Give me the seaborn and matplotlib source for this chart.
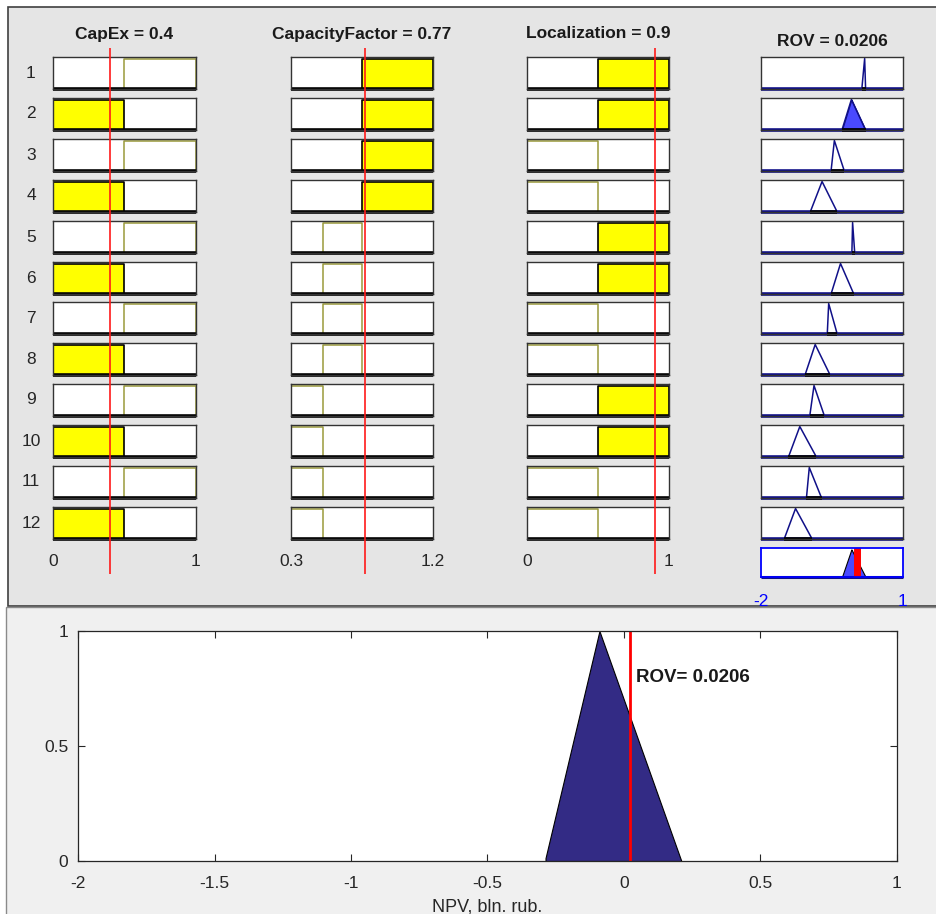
"""Fuzzy rule viewer: CapEx / CapacityFactor / Localization -> ROV, plus the NPV output plot."""
import matplotlib
matplotlib.use("Agg")
import matplotlib.pyplot as plt
import seaborn as sns
import numpy as np
from matplotlib.patches import Rectangle
from matplotlib.transforms import blended_transform_factory

capex_value = 0.4
cf_value = 0.77
loc_value = 0.9
rov_value = 0.0206

capex_sets = {"low": (0.0, 0.5), "high": (0.5, 1.0)}
cf_sets = {"low": (0.3, 0.5), "mid": (0.5, 0.75), "high": (0.75, 1.2)}
loc_sets = {"low": (0.0, 0.5), "high": (0.5, 1.0)}

rule_capex = ["high", "low", "high", "low", "high", "low",
              "high", "low", "high", "low", "high", "low"]
rule_cf = ["high", "high", "high", "high", "mid", "mid",
           "mid", "mid", "low", "low", "low", "low"]
rule_loc = ["high", "high", "low", "low", "high", "high",
            "low", "low", "high", "high", "low", "low"]

# output triangles (left, peak, right) per rule
rov_left = [0.13, -0.29, -0.52, -0.96, -0.08, -0.52, -0.60, -1.07, -0.97, -1.42, -1.04, -1.51]
rov_peak = [0.19, -0.09, -0.45, -0.71, -0.065, -0.32, -0.57, -0.855, -0.88, -1.18, -0.98, -1.27]
rov_right = [0.21, 0.21, -0.24, -0.39, -0.02, -0.04, -0.39, -0.54, -0.66, -0.83, -0.72, -0.92]

npv_ticks = [-2, -1.5, -1, -0.5, 0, 0.5, 1]
npv_tick_labels = ["-2", "-1.5", "-1", "-0.5", "0", "0.5", "1"]
mu_ticks = [0, 0.5, 1]
mu_tick_labels = ["0", "0.5", "1"]

# ---- styling ----
sns.set_style("white")
plt.rcParams["font.family"] = ["Liberation Sans", "DejaVu Sans"]

W, H = 937, 914
YELLOW = "#ffff00"
OLIVE = "#9a9a3a"
NAVY = "#101088"
LIGHT_BLUE = "#4a4aff"
DARK_FILL = "#332b85"
BOX_EDGE = "#333333"
TXT = "#262626"

fig = plt.figure(figsize=(W / 100, H / 100), dpi=100, facecolor="white")

# panel backgrounds (behind every axes)
fig.patches.append(Rectangle((8 / W, 1 - 606 / H), (W - 8) / W, (606 - 7) / H,
                             transform=fig.transFigure, facecolor="#e5e5e5",
                             edgecolor="#404040", linewidth=1.2, zorder=-2))
fig.patches.append(Rectangle((6 / W, -0.01), (W - 6) / W, 1 - 607 / H + 0.01,
                             transform=fig.transFigure, facecolor="#f0f0f0",
                             edgecolor="#8a8a8a", linewidth=1.0, zorder=-2))


def px_axes(x0, y0, x1, y1):
    return fig.add_axes([x0 / W, 1 - y1 / H, (x1 - x0) / W, (y1 - y0) / H])


def box_style(ax, color=BOX_EDGE, lw=1.0):
    ax.set_xticks([])
    ax.set_yticks([])
    for s in ax.spines.values():
        s.set_color(color)
        s.set_linewidth(lw)
        s.set_visible(True)
    ax.set_facecolor("white")


row_top = [57, 98, 139, 180, 221, 262, 302, 343, 384, 425, 466, 507]
row_h = 32
n_rules = len(rule_capex)

columns = [
    ("CapEx", capex_value, capex_sets, rule_capex, 0.0, 1.0, 53, 196, "0", "1"),
    ("CapacityFactor", cf_value, cf_sets, rule_cf, 0.3, 1.2, 291, 433, "0.3", "1.2"),
    ("Localization", loc_value, loc_sets, rule_loc, 0.0, 1.0, 527, 669, "0", "1"),
]

firing = np.ones(n_rules)

for name, val, sets, rules, lo, hi, x0, x1, lo_lab, hi_lab in columns:
    for r in range(n_rules):
        a, b = sets[rules[r]]
        mu = 1.0 if a <= val <= b else 0.0
        firing[r] = min(firing[r], mu)
        ax = px_axes(x0, row_top[r], x1, row_top[r] + row_h)
        ax.set_xlim(lo, hi)
        ax.set_ylim(0, 1.05)
        box_style(ax)
        if mu > 0:
            ax.fill_between([a, b], 0, mu, facecolor=YELLOW, edgecolor="black", linewidth=1.2)
        else:
            sns.lineplot(x=[a, a, b, b], y=[0, 1, 1, 0], ax=ax, color=OLIVE,
                         linewidth=1.1, sort=False, estimator=None)
        ax.plot([lo, hi], [0, 0], color="black", linewidth=2.6, clip_on=False,
                solid_capstyle="butt")
        ax.set_xlabel("")
        ax.set_ylabel("")

    # red marker for the crisp input, spanning the whole column
    ov = px_axes(x0, 48, x1, 574)
    ov.set_xlim(lo, hi)
    ov.set_ylim(0, 1)
    ov.axis("off")
    ov.patch.set_visible(False)
    ov.axvline(val, color="#ff1a1a", linewidth=1.2)
    fig.text((x0 + x1) / 2 / W, 1 - 34 / H, f"{name} = {val:g}", ha="center", va="center",
             fontsize=12.5, fontweight="bold", color="#1a1a1a")
    tr = blended_transform_factory(ov.transData, fig.transFigure)
    ov.text(lo, 1 - 561 / H, lo_lab, transform=tr, ha="center", va="center",
            fontsize=12.5, color=TXT)
    ov.text(hi, 1 - 561 / H, hi_lab, transform=tr, ha="center", va="center",
            fontsize=12.5, color=TXT)

# rule numbers
for r in range(n_rules):
    fig.text(31 / W, 1 - (row_top[r] + row_h / 2) / H, str(r + 1), ha="center", va="center",
             fontsize=12.5, color=TXT)

# ---- output column ----
xs = np.linspace(-2, 1, 1201)
agg = np.zeros_like(xs)
for r in range(n_rules):
    a, b, c = rov_left[r], rov_peak[r], rov_right[r]
    tri = np.interp(xs, [a, b, c], [0, 1, 0])
    clipped = np.minimum(tri, firing[r])
    agg = np.maximum(agg, clipped)

    ax = px_axes(761, row_top[r], 903, row_top[r] + row_h)
    ax.set_xlim(-2, 1)
    ax.set_ylim(0, 1.05)
    box_style(ax)
    ax.plot([-2, 1], [0, 0], color=NAVY, linewidth=2.6, clip_on=False, solid_capstyle="butt")
    if firing[r] > 0:
        ax.fill_between(xs, 0, clipped, where=clipped > 0, facecolor=LIGHT_BLUE,
                        edgecolor=NAVY, linewidth=0.8)
    sns.lineplot(x=[a, b, c], y=[0, 1, 0], ax=ax, color=NAVY, linewidth=1.1,
                 sort=False, estimator=None)
    ax.plot([a, c], [0, 0], color="black", linewidth=2.6, clip_on=False, solid_capstyle="butt")
    ax.set_xlabel("")
    ax.set_ylabel("")

fig.text(832 / W, 1 - 42 / H, f"ROV = {rov_value:g}", ha="center", va="center",
         fontsize=12.5, fontweight="bold", color="#1a1a1a")

ax_agg = px_axes(761, 548, 903, 577)
ax_agg.set_xlim(-2, 1)
ax_agg.set_ylim(0, 1.05)
box_style(ax_agg, color="#0000ff", lw=1.3)
ax_agg.fill_between(xs, 0, agg, where=agg > 0, facecolor=LIGHT_BLUE, edgecolor="black",
                    linewidth=0.8)
ax_agg.plot([-2, 1], [0, 0], color=NAVY, linewidth=2.2, clip_on=False, solid_capstyle="butt")
ax_agg.axvline(rov_value, color="#ff0000", linewidth=5)
tr = blended_transform_factory(ax_agg.transData, fig.transFigure)
ax_agg.text(-2, 1 - 601 / H, "-2", transform=tr, ha="center", va="center",
            fontsize=12.5, color="#0000ff")
ax_agg.text(1, 1 - 601 / H, "1", transform=tr, ha="center", va="center",
            fontsize=12.5, color="#0000ff")

# ---- bottom: aggregated output with defuzzified value ----
ax = px_axes(78, 631, 897, 861)
ax.set_facecolor("white")
ax.fill_between(xs, 0, agg, where=agg > 0, facecolor=DARK_FILL, edgecolor="black",
                linewidth=0.8)
ax.plot([rov_value, rov_value], [0, 1], color="#ff0000", linewidth=2)
ax.text(rov_value + 0.025, 0.8, f"ROV= {rov_value:g}", fontsize=13.5, fontweight="bold",
        ha="left", va="center", color="#1a1a1a")
ax.set_xlim(-2, 1)
ax.set_ylim(0, 1)
ax.set_xticks(npv_ticks)
ax.set_xticklabels(npv_tick_labels)
ax.set_yticks(mu_ticks)
ax.set_yticklabels(mu_tick_labels)
ax.tick_params(direction="in", length=5, width=0.8, top=True, right=True,
               bottom=True, left=True, labelsize=12.5, colors=TXT)
ax.tick_params(axis="x", pad=11)
ax.tick_params(axis="y", pad=7)
for s in ax.spines.values():
    s.set_color(TXT)
    s.set_linewidth(0.9)
    s.set_visible(True)
ax.set_xlabel("NPV, bln. rub.", fontsize=13, color=TXT, labelpad=5)

fig.savefig("out.png", dpi=100, facecolor=fig.get_facecolor())
